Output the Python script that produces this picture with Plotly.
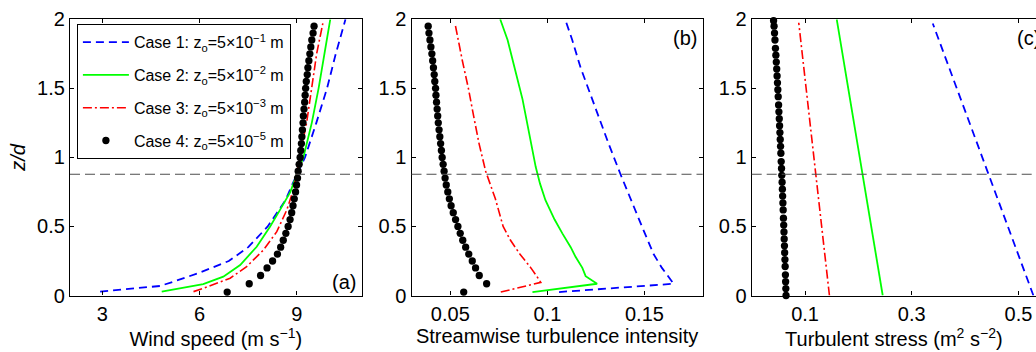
import plotly.graph_objects as go

# ---------------- data ----------------
z_canopy = 0.878

# black dots (Case 4), panels a & b share these heights
z_dots = [0.025, 0.085, 0.145, 0.2, 0.25, 0.3, 0.35, 0.4, 0.45, 0.5, 0.55, 0.6, 0.65,
          0.7, 0.75, 0.8, 0.85, 0.9, 0.95, 1.0, 1.05, 1.1, 1.15, 1.2, 1.25, 1.3, 1.35,
          1.4, 1.45, 1.5, 1.55, 1.6, 1.65, 1.7, 1.75, 1.8, 1.85, 1.9, 1.95]

# Panel (a) wind speed
z_a1 = [0.028, 0.069, 0.1, 0.165, 0.25, 0.35, 0.5, 0.69, 0.8, 0.88, 1.0, 1.25, 1.5, 1.75, 2.0]
u_a1 = [2.93, 4.78, 5.19, 6.0, 6.9, 7.5, 8.1, 8.65, 8.85, 9.02, 9.25, 9.6, 9.93, 10.2, 10.5]
z_a2 = [0.028, 0.083, 0.136, 0.221, 0.353, 0.498, 0.62, 0.75, 0.88, 1.0, 1.25, 1.5, 1.75, 2.0]
u_a2 = [4.83, 6.11, 6.73, 7.25, 7.76, 8.17, 8.48, 8.8, 9.0, 9.2, 9.46, 9.67, 9.85, 10.03]
z_a3 = [0.028, 0.052, 0.125, 0.209, 0.33, 0.462, 0.62, 0.75, 0.88, 1.0, 1.25, 1.5, 1.75, 1.97]
u_a3 = [5.81, 6.11, 6.94, 7.45, 7.97, 8.38, 8.69, 8.87, 9.0, 9.08, 9.3, 9.46, 9.61, 9.8]
u_a4 = [6.85, 7.53, 7.88, 8.08, 8.25, 8.40, 8.50, 8.58, 8.66, 8.73, 8.79, 8.84, 8.88,
        8.92, 8.96, 8.99, 9.02, 9.04, 9.07, 9.10, 9.12, 9.14, 9.155, 9.17, 9.19, 9.20,
        9.22, 9.24, 9.255, 9.27, 9.29, 9.32, 9.34, 9.37, 9.40, 9.43, 9.46, 9.50, 9.53]

# Panel (b) streamwise turbulence intensity
z_b1 = [0.025, 0.085, 0.2, 0.3, 0.5, 0.7, 0.88, 1.1, 1.4, 1.65, 1.85, 1.99]
i_b1 = [0.106, 0.165, 0.159, 0.1547, 0.1487, 0.1427, 0.1376, 0.1315, 0.1237, 0.1171, 0.1128, 0.1094]
z_b2 = [0.025, 0.085, 0.14, 0.2, 0.28, 0.35, 0.45, 0.55, 0.69, 0.81, 0.93, 1.17, 1.42, 1.66, 1.85, 2.0]
i_b2 = [0.0923, 0.1256, 0.1197, 0.118, 0.1145, 0.112, 0.1077, 0.1037, 0.0990, 0.0962, 0.094,
        0.0906, 0.0872, 0.0829, 0.0795, 0.0757]
z_b3 = [0.025, 0.095, 0.14, 0.2, 0.3, 0.4, 0.5, 0.7, 0.9, 1.1, 1.3, 1.5, 1.7, 1.97]
i_b3 = [0.076, 0.0966, 0.0945, 0.0915, 0.0858, 0.081, 0.0772, 0.0732, 0.0682, 0.0648, 0.062,
        0.0593, 0.0562, 0.0524]
i_b4 = [0.0569, 0.0687, 0.0649, 0.0630, 0.0613, 0.0595, 0.0579, 0.0564, 0.0551, 0.0539,
        0.0527, 0.0515, 0.0504, 0.0495, 0.0487, 0.0479, 0.0473, 0.0468, 0.0463, 0.0458,
        0.0454, 0.0450, 0.0446, 0.0442, 0.0438, 0.0435, 0.0432, 0.0429, 0.0426, 0.0424,
        0.0420, 0.0417, 0.0413, 0.0409, 0.0405, 0.0400, 0.0395, 0.0390, 0.0386]

# Panel (c) turbulent stress
z_c1 = [0.0, 1.97]
s_c1 = [0.528, 0.3394]
z_c2 = [0.0, 2.0]
s_c2 = [0.2456, 0.1594]
z_c3 = [0.0, 1.975]
s_c3 = [0.1457, 0.0882]
z_c4 = [0.0, 0.05, 0.10, 0.15, 0.21, 0.26, 0.31, 0.36, 0.41, 0.46, 0.51, 0.56, 0.62, 0.67,
        0.72, 0.77, 0.82, 0.87, 0.92, 0.97, 1.03, 1.08, 1.13, 1.18, 1.23, 1.28, 1.33, 1.38,
        1.44, 1.49, 1.54, 1.59, 1.64, 1.69, 1.74, 1.79, 1.85, 1.90, 1.95, 1.99]
s_c4 = [0.0644, 0.0640, 0.0636, 0.0632, 0.0627, 0.0623, 0.0618, 0.0614, 0.0609, 0.0605,
        0.0600, 0.0595, 0.0590, 0.0585, 0.0580, 0.0575, 0.0570, 0.0564, 0.0559, 0.0553,
        0.0547, 0.0541, 0.0535, 0.0529, 0.0523, 0.0517, 0.0510, 0.0504, 0.0497, 0.0490,
        0.0483, 0.0476, 0.0469, 0.0461, 0.0453, 0.0445, 0.0436, 0.0428, 0.0419, 0.0410]

case_names = ["Case 1: z<sub>o</sub>=5×10<sup>−1</sup> m",
              "Case 2: z<sub>o</sub>=5×10<sup>−2</sup> m",
              "Case 3: z<sub>o</sub>=5×10<sup>−3</sup> m",
              "Case 4: z<sub>o</sub>=5×10<sup>−5</sup> m"]

x_titles = ["Wind speed (m s<sup>−1</sup>)", "Streamwise turbulence intensity",
            "Turbulent stress (m<sup>2</sup> s<sup>−2</sup>)"]
panel_labels = ["(a)", "(b)", "(c)"]
y_ticks = [0, 0.5, 1, 1.5, 2]
x_ticks = [[3, 6, 9], [0.05, 0.1, 0.15], [0.1, 0.3, 0.5]]
x_ranges = [[2, 11], [0.03, 0.18], [0, 0.5329]]

# ---------------- styling ----------------
W, H = 1036, 352
FONT = "Liberation Sans, Arial, sans-serif"
line_styles = [
    dict(color="#0000ff", width=1.8, dash="8px,5px"),
    dict(color="#00ff00", width=1.8, dash="solid"),
    dict(color="#ff0000", width=1.6, dash="9px,3px,2px,3px"),
]

x_domains = [[70 / W, 361.7 / W], [411.5 / W, 702.7 / W], [751.7 / W, 1.0]]
y_domain = [1 - 295.5 / H, 1 - 19.3 / H]

fig = go.Figure()

panels = [
    [(u_a1, z_a1), (u_a2, z_a2), (u_a3, z_a3), (u_a4, z_dots)],
    [(i_b1, z_b1), (i_b2, z_b2), (i_b3, z_b3), (i_b4, z_dots)],
    [(s_c1, z_c1), (s_c2, z_c2), (s_c3, z_c3), (s_c4, z_c4)],
]

for p, series in enumerate(panels):
    xa = "x" if p == 0 else f"x{p+1}"
    ya = "y" if p == 0 else f"y{p+1}"
    for k, (xv, zv) in enumerate(series):
        show = p == 0
        if k < 3:
            fig.add_trace(go.Scatter(x=xv, y=zv, mode="lines", line=line_styles[k],
                                     name=case_names[k], showlegend=show,
                                     legendgroup=f"g{k}", xaxis=xa, yaxis=ya,
                                     cliponaxis=False))
        else:
            fig.add_trace(go.Scatter(x=xv, y=zv, mode="markers",
                                     marker=dict(color="black", size=7.3),
                                     name=case_names[k], showlegend=show,
                                     legendgroup=f"g{k}", xaxis=xa, yaxis=ya,
                                     cliponaxis=False))
    # canopy-height dashed line
    fig.add_shape(type="line", xref=f"{xa} domain", yref=ya, x0=0, x1=1,
                  y0=z_canopy, y1=z_canopy,
                  line=dict(color="#4d4d4d", width=1, dash="10px,5px"))

axis_common = dict(showline=True, linecolor="black", linewidth=1.2, mirror="ticks",
                   ticks="inside", ticklen=4, tickwidth=1, tickcolor="black",
                   showgrid=False, zeroline=False,
                   tickfont=dict(family=FONT, size=20, color="black"))

for p in range(3):
    sfx = "" if p == 0 else str(p + 1)
    fig.layout[f"xaxis{sfx}"] = dict(
        axis_common, domain=x_domains[p], range=x_ranges[p], tickvals=x_ticks[p],
        anchor=f"y{sfx}", automargin=False,
        title=dict(text=x_titles[p], font=dict(family=FONT, size=20, color="black"),
                   standoff=4))
    ydict = dict(axis_common, domain=y_domain, range=[0, 2], tickvals=y_ticks,
                 ticktext=["0", "0.5", "1", "1.5", "2"],
                 anchor=f"x{sfx}", automargin=False)
    if p == 2:
        ydict["mirror"] = False
    if p == 0:
        ydict["title"] = dict(text="<i>z/d</i>", font=dict(family=FONT, size=20, color="black"),
                              standoff=6)
    fig.layout[f"yaxis{sfx}"] = ydict

# panel labels
fig.add_annotation(text=panel_labels[0], xref="x domain", yref="y domain", x=1, y=0,
                   xanchor="right", yanchor="bottom", xshift=-4, yshift=1, showarrow=False,
                   font=dict(family=FONT, size=20, color="black"))
fig.add_annotation(text=panel_labels[1], xref="x2 domain", yref="y2 domain", x=1, y=1,
                   xanchor="right", yanchor="top", xshift=-4, yshift=-6, showarrow=False,
                   font=dict(family=FONT, size=20, color="black"))
fig.add_annotation(text=panel_labels[2], xref="x3", yref="y3 domain", x=0.4935, y=1,
                   xanchor="left", yanchor="top", yshift=-6, showarrow=False,
                   font=dict(family=FONT, size=20, color="black"))

fig.update_layout(
    width=W, height=H, margin=dict(l=0, r=0, t=0, b=0),
    paper_bgcolor="white", plot_bgcolor="white",
    font=dict(family=FONT, color="black"),
    legend=dict(x=76.7 / W, y=1 - 24 / H, xanchor="left", yanchor="top",
                bgcolor="white", bordercolor="black", borderwidth=1.2,
                font=dict(family=FONT, size=16, color="black"),
                tracegroupgap=9, itemwidth=46),
)

fig.write_html("out.html")
